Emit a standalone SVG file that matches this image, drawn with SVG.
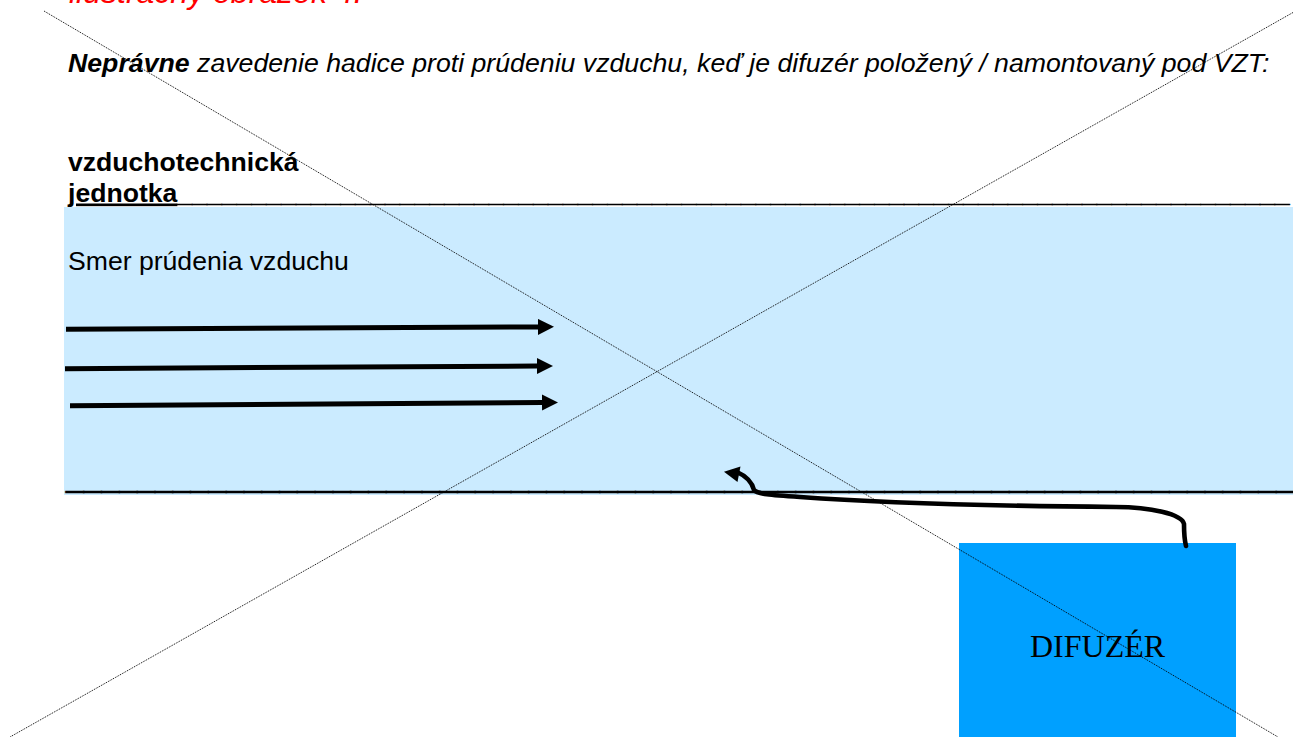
<svg xmlns="http://www.w3.org/2000/svg" width="1293" height="737" viewBox="0 0 1293 737">
<style>
text{font-family:"Liberation Sans",Arial,sans-serif;font-size:26.6px;fill:#000;white-space:pre}
.i{font-style:italic}
.b{font-weight:700}
.rule{stroke:#000;stroke-width:.7}
.flow{fill:none;stroke:#000;stroke-width:5}
.hose{fill:none;stroke:#000;stroke-width:4.6;stroke-linecap:round}
.cross{stroke:#000;stroke-width:1;stroke-dasharray:1 1;fill:none}
</style>
<defs>
<marker id="head" markerUnits="userSpaceOnUse" markerWidth="17" markerHeight="17" refX="0" refY="8" orient="auto">
<path d="M0 0L16 8L0 16Z" fill="#000"/>
</marker>
</defs>
<rect width="1293" height="737" fill="#fff"/>
<g id="duct">
<rect x="64" y="207" width="1229" height="288" fill="#cbebff"/>
<text x="66" y="487" class="rule" style="font-size:32px">______________________________________________________________________</text>
<text x="68" y="270">Smer prúdenia vzduchu</text>
</g>
<g id="unit-label" class="b">
<text x="68" y="170.500">vzduchotechnická</text>
<text x="68" y="201.500"><tspan text-decoration="underline">jednotka</tspan><tspan class="rule" letter-spacing=".04">___________________________________________________________________________</tspan></text>
</g>
<g id="captions">
<text x="69" y="3" class="i" style="fill:#f00;font-size:32px">ilustračný obrázok 4:</text>
<text x="68" y="72" class="i" style="font-size:26.7px"><tspan class="b">Neprávne</tspan> zavedenie hadice proti prúdeniu vzduchu, keď je difuzér položený / namontovaný pod VZT:</text>
</g>
<g id="difuzer">
<rect x="959" y="543" width="277" height="194" fill="#00a0ff"/>
<text x="1030" y="657" style="font-family:'Liberation Serif',serif;font-size:32px">DIFUZÉR</text>
</g>
<g id="connectors">
<path class="flow" d="M66 329.300L538 326.900" marker-end="url(#head)"/>
<path class="flow" d="M65 368.700L537 366" marker-end="url(#head)"/>
<path class="flow" d="M70 405.700L542 402.500" marker-end="url(#head)"/>
<path class="hose" d="M1186 546C1184 538 1184 530 1184 524C1182 514 1150 507 1116 507C1000 506 880 503 800 497C770 495 757 494 754 490C752 482 746 476 737 472"/>
<path d="M724 471.700L740.500 466.500L737.500 482Z" fill="#000"/>
</g>
<g id="cross-out">
<line class="cross" x1="44" y1="11" x2="1278" y2="737"/>
<line class="cross" x1="1293" y1="12.500" x2="10" y2="737"/>
</g>
</svg>
